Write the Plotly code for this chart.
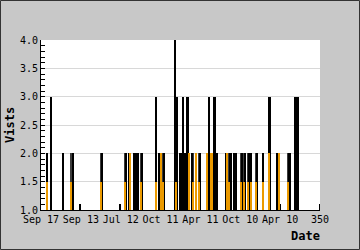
import plotly.graph_objects as go

# Black series (visits)
black_x = [8, 13, 28, 40, 49, 77, 99, 107, 111, 117, 119, 120, 122, 127, 145, 148, 149, 155,
           168, 171, 175, 176, 178, 181, 184, 190, 195, 200, 209, 211, 218, 221, 232, 238,
           243, 245, 252, 256, 261, 264, 271, 279, 287, 297, 300, 312, 313, 319, 320, 322, 350]
black_y = [2.0, 3.0, 2.0, 2.0, 1.1, 2.0, 1.1, 2.0, 2.0, 2.0, 2.0, 2.0, 2.0, 2.0, 3.0, 1.1, 2.0, 2.0,
           4.0, 3.0, 2.0, 2.0, 3.0, 2.0, 3.0, 2.0, 2.0, 2.0, 2.0, 3.0, 3.0, 2.0, 2.0, 2.0,
           2.0, 2.0, 2.0, 2.0, 2.0, 2.0, 2.0, 2.0, 3.0, 2.0, 1.1, 2.0, 2.0, 3.0, 3.0, 3.0, 1.1]

# Orange series
orange_x = [7, 38, 75, 105, 112, 125, 144, 151, 153, 169, 186, 191, 194, 198, 208, 213, 215,
            233, 236, 251, 255, 260, 263, 270, 278, 286, 299, 310]
orange_y = [1.5, 1.5, 1.5, 1.5, 2.0, 1.5, 1.5, 2.0, 1.5, 1.5, 2.0, 1.5, 2.0, 1.5, 2.0, 2.0, 2.0,
            2.0, 1.5, 1.5, 1.5, 1.5, 1.5, 1.5, 1.5, 2.0, 2.0, 1.5]

# Shadow heights drawn behind the orange bars
shade_y = [2.0, 2.0, 2.0, 2.0, 2.0, 2.0, 2.0, 2.0, 2.0, 2.0, 2.0, 2.0, 2.0, 2.0, 2.0, 2.0, 2.0,
           2.0, 2.0, 2.0, 2.0, 2.0, 2.0, 2.0, 2.0, 2.0, 2.0, 2.0]

tick_vals = [0, 50, 100, 150, 200, 250, 300, 350]
tick_text = ["Sep 17", "Sep 13", "Jul 12", "Oct 11", "Apr 11", "Oct 10", "Apr 10", "350"]

MONO = "DejaVu Sans Mono"

fig = go.Figure()
fig.add_trace(go.Bar(x=orange_x, y=shade_y, width=1.3, marker=dict(color="#3c3c3c", line=dict(width=0)),
                     showlegend=False, hoverinfo="skip"))
fig.add_trace(go.Bar(x=black_x, y=black_y, width=2.2, marker=dict(color="#000000", line=dict(width=0)),
                     showlegend=False, hoverinfo="skip"))
fig.add_trace(go.Bar(x=orange_x, y=orange_y, width=1.3, marker=dict(color="#eb9a00", line=dict(width=0)),
                     showlegend=False, hoverinfo="skip"))

L, R, T, B = 41, 40, 40, 40
W, H = 360, 250
pw, ph = W - L - R, H - T - B

fig.update_layout(
    width=W, height=H,
    margin=dict(l=L, r=R, t=T, b=B, pad=0),
    paper_bgcolor="#c8c8c8",
    plot_bgcolor="#ffffff",
    barmode="overlay",
    bargap=0,
    font=dict(family=MONO, size=10, color="#000000"),
    xaxis=dict(range=[0, 350], tickmode="array", tickvals=tick_vals, ticktext=tick_text,
               showgrid=False, zeroline=False, showline=True, linecolor="#000000", linewidth=1,
               ticks="", tickfont=dict(family=MONO, size=10, color="#000000")),
    yaxis=dict(range=[1.0, 4.0], tick0=1.0, dtick=0.5, tickformat=".1f",
               showgrid=True, gridcolor="#d8d8d8", gridwidth=1, zeroline=False,
               showline=True, linecolor="#000000", linewidth=1,
               ticks="inside", ticklen=4, tickcolor="#000000",
               minor=dict(dtick=0.1, ticks="inside", ticklen=4, tickcolor="#000000", showgrid=False),
               tickfont=dict(family=MONO, size=10, color="#000000")),
    annotations=[
        dict(text="<b>Date</b>", xref="paper", yref="paper", x=(305 - L) / pw, y=(H - B - 236) / ph,
             showarrow=False, font=dict(family=MONO, size=12, color="#000000"), xanchor="center", yanchor="middle"),
        dict(text="<b>Vists</b>", xref="paper", yref="paper", x=(10 - L) / pw, y=0.5, textangle=-90,
             showarrow=False, font=dict(family=MONO, size=12, color="#000000"), xanchor="center", yanchor="middle"),
    ],
    shapes=[
        dict(type="rect", xref="paper", yref="paper",
             x0=(0.5 - L) / pw, x1=(W - 0.5 - L) / pw, y0=(H - B - (H - 0.5)) / ph, y1=(H - B - 0.5) / ph,
             line=dict(color="#333333", width=1), fillcolor="rgba(0,0,0,0)", layer="below"),
    ],
)

fig.write_html("out.html")
